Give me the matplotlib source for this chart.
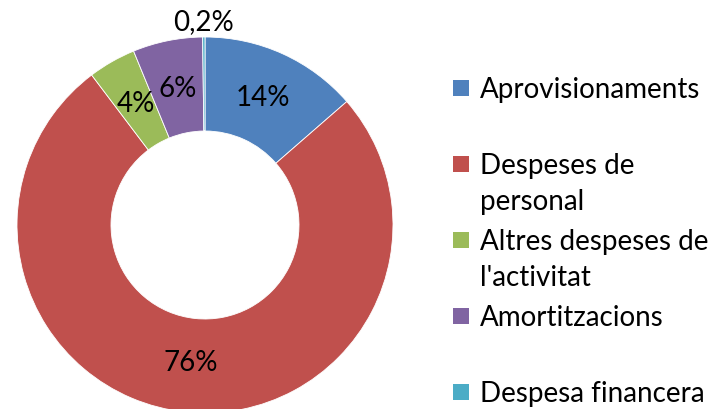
import matplotlib
matplotlib.use("Agg")
import matplotlib.pyplot as plt
from matplotlib.patches import Rectangle
import numpy as np

# data (percent of total)
categories = ["Aprovisionaments", "Despeses de\npersonal", "Altres despeses de\nl'activitat",
              "Amortitzacions", "Despesa financera"]
values = [13.6, 76.1, 4.1, 6.0, 0.2]
colors = ["#4F81BD", "#C0504D", "#9BBB59", "#8064A2", "#4BACC6"]

plt.rcParams['font.family'] = ['Lato', 'DejaVu Sans']

W, H = 709, 409
fig = plt.figure(figsize=(W / 100, H / 100), dpi=100)

# pie centre and radius in pixels
cx, cy, R = 205, 225, 188
ax = fig.add_axes([(cx - R) / W, (H - cy - R) / H, 2 * R / W, 2 * R / H])

wedges, _ = ax.pie(values, colors=colors, startangle=90, counterclock=False,
                   radius=1, wedgeprops=dict(width=0.5, edgecolor="white", linewidth=0.6))
ax.set_xlim(-1, 1)
ax.set_ylim(-1, 1)
ax.axis("off")


def fmt(v):
    if v < 1:
        return ("%.1f%%" % v).replace(".", ",")
    return "%d%%" % round(v)


for w, v in zip(wedges, values):
    mid = np.deg2rad((w.theta1 + w.theta2) / 2)
    r = 1.08 if v < 1 else 0.74
    ax.text(r * np.cos(mid), r * np.sin(mid), fmt(v), ha="center", va="center",
            fontsize=20, color="black", clip_on=False)

# legend, drawn by hand so the entries stay evenly spaced
y0, step, line_h = 88, 76, 36
for i, (name, c) in enumerate(zip(categories, colors)):
    yc = y0 + i * step
    fig.patches.append(Rectangle((453 / W, 1 - (yc + 8) / H), 16 / W, 16 / H,
                                 transform=fig.transFigure, facecolor=c, edgecolor="none"))
    for j, line in enumerate(name.split("\n")):
        fig.text(480 / W, 1 - (yc + 10 + j * line_h) / H, line, ha="left", va="baseline",
                 fontsize=20, color="black")

fig.savefig("out.png", dpi=100)
